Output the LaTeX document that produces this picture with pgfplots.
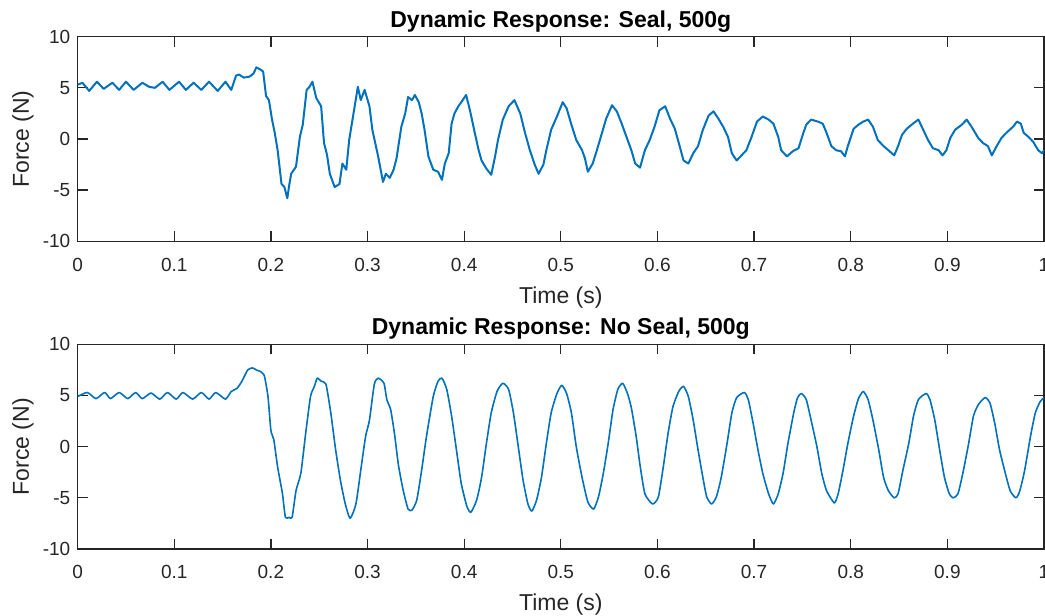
\documentclass[border=0pt]{standalone}
\usepackage{pgfplots}
\pgfplotsset{compat=1.18}
\usepackage{fontspec}
\setmainfont{Liberation Sans}
\definecolor{mblue}{RGB}{0,114,189}
\definecolor{axgray}{RGB}{38,38,38}

\pgfplotstableread{
x y
0.000 5.3
0.005 5.5
0.012 4.7
0.020 5.6
0.027 4.9
0.036 5.5
0.043 4.8
0.050 5.6
0.058 4.8
0.067 5.5
0.074 5.1
0.080 5.0
0.088 5.6
0.095 4.8
0.105 5.6
0.112 4.8
0.120 5.5
0.128 4.8
0.136 5.6
0.145 4.7
0.153 5.6
0.159 4.8
0.164 6.2
0.167 6.3
0.172 6.0
0.178 6.1
0.182 6.4
0.185 7.0
0.189 6.8
0.192 6.6
0.195 4.2
0.198 3.8
0.201 2.0
0.204 0.6
0.207 -1.1
0.211 -4.4
0.214 -4.7
0.217 -5.8
0.219 -4.5
0.221 -3.4
0.226 -2.7
0.230 0.2
0.233 1.4
0.237 4.8
0.240 5.1
0.243 5.6
0.247 4.0
0.252 3.2
0.255 -0.4
0.258 -1.5
0.261 -3.4
0.266 -4.7
0.271 -4.4
0.274 -2.4
0.278 -3.0
0.281 -0.1
0.285 2.2
0.290 5.1
0.293 3.8
0.297 4.8
0.302 3.2
0.305 0.9
0.311 -1.7
0.316 -4.2
0.319 -3.4
0.323 -3.8
0.327 -3.0
0.330 -1.9
0.335 1.2
0.339 2.5
0.342 4.1
0.346 3.8
0.349 4.3
0.353 3.6
0.356 2.5
0.359 0.9
0.363 -1.7
0.368 -3.0
0.373 -3.2
0.377 -4.0
0.380 -2.4
0.384 -1.4
0.387 1.5
0.390 2.5
0.394 3.2
0.397 3.6
0.402 4.3
0.406 2.8
0.411 0.6
0.415 -1.1
0.418 -2.1
0.423 -2.9
0.428 -3.5
0.432 -1.7
0.435 -0.1
0.440 1.9
0.446 3.2
0.452 3.8
0.458 2.5
0.463 0.6
0.468 -1.1
0.473 -2.5
0.477 -3.4
0.482 -2.5
0.485 -1.1
0.490 0.9
0.496 2.2
0.502 3.6
0.506 3.0
0.511 1.4
0.516 -0.1
0.522 -1.1
0.525 -1.9
0.528 -3.2
0.533 -2.4
0.537 -1.2
0.542 0.4
0.547 2.0
0.553 3.3
0.558 2.7
0.563 1.5
0.568 0.2
0.573 -1.1
0.577 -2.4
0.582 -2.8
0.587 -1.1
0.592 -0.1
0.597 1.2
0.602 2.8
0.608 3.2
0.613 2.0
0.618 1.0
0.623 -0.7
0.627 -2.1
0.632 -2.4
0.637 -1.4
0.642 -0.7
0.647 0.9
0.653 2.3
0.658 2.7
0.663 2.0
0.668 1.2
0.673 0.2
0.677 -1.4
0.682 -2.1
0.687 -1.6
0.692 -1.1
0.697 0.1
0.703 1.7
0.709 2.2
0.715 1.9
0.720 1.5
0.725 0.2
0.728 -1.1
0.734 -1.7
0.740 -1.2
0.746 -0.9
0.751 0.6
0.754 1.4
0.759 1.9
0.766 1.7
0.771 1.5
0.775 0.6
0.780 -0.7
0.785 -1.1
0.790 -1.2
0.794 -1.7
0.797 -0.7
0.803 1.0
0.808 1.4
0.813 1.7
0.818 1.9
0.823 1.2
0.828 -0.1
0.834 -0.7
0.839 -1.1
0.845 -1.6
0.849 -0.7
0.853 0.4
0.858 1.0
0.863 1.4
0.870 1.9
0.875 0.9
0.880 -0.1
0.885 -0.9
0.891 -1.1
0.895 -1.6
0.899 -1.1
0.903 0.1
0.908 0.9
0.915 1.4
0.920 1.9
0.925 1.2
0.932 0.1
0.937 -0.4
0.942 -0.7
0.946 -1.6
0.951 -0.7
0.956 0.1
0.961 0.6
0.968 1.2
0.972 1.7
0.976 1.5
0.979 0.6
0.984 0.2
0.989 -0.3
0.994 -1.1
0.998 -1.4
1.000 -1.1
}\sealdata

\pgfplotstableread{
x y
0.000 4.9
0.010 5.3
0.019 4.7
0.028 5.3
0.034 4.7
0.043 5.3
0.052 4.7
0.060 5.3
0.067 4.7
0.076 5.25
0.085 4.65
0.093 5.3
0.102 4.65
0.109 5.3
0.119 4.65
0.128 5.3
0.136 4.65
0.143 5.3
0.153 4.65
0.159 5.4
0.165 5.7
0.170 6.4
0.176 7.5
0.181 7.7
0.185 7.5
0.188 7.4
0.193 7.0
0.197 4.9
0.200 1.6
0.203 0.7
0.207 -2.0
0.212 -4.6
0.215 -6.9
0.219 -6.9
0.222 -6.9
0.226 -4.3
0.231 -2.6
0.236 1.3
0.241 4.9
0.245 5.9
0.248 6.7
0.252 6.4
0.257 6.1
0.262 3.3
0.267 -0.3
0.272 -3.3
0.277 -5.6
0.282 -7.0
0.288 -5.6
0.293 -2.3
0.298 1.0
0.302 2.6
0.307 6.1
0.311 6.7
0.317 6.2
0.320 4.6
0.324 3.6
0.328 1.2
0.332 -1.8
0.337 -4.3
0.342 -6.1
0.346 -6.2
0.351 -5.2
0.356 -2.3
0.361 1.0
0.368 4.9
0.373 6.4
0.377 6.7
0.382 5.6
0.387 3.0
0.392 -0.3
0.397 -3.6
0.403 -5.9
0.407 -6.4
0.413 -5.2
0.418 -3.0
0.423 0.3
0.428 3.3
0.434 5.4
0.440 6.2
0.446 5.6
0.451 3.3
0.456 0.0
0.461 -3.3
0.466 -5.6
0.470 -6.3
0.475 -5.2
0.480 -3.0
0.485 0.3
0.490 3.3
0.496 5.2
0.501 6.0
0.506 5.2
0.511 3.3
0.516 0.0
0.522 -3.0
0.528 -5.4
0.534 -6.1
0.539 -4.9
0.544 -2.6
0.549 0.3
0.554 3.6
0.559 5.6
0.564 6.2
0.569 5.2
0.573 3.8
0.578 1.0
0.582 -1.8
0.587 -4.6
0.595 -5.6
0.601 -4.9
0.606 -2.0
0.611 1.3
0.616 3.9
0.622 5.4
0.627 5.9
0.632 4.9
0.637 2.6
0.642 -0.3
0.647 -3.0
0.651 -4.9
0.656 -5.6
0.661 -4.9
0.666 -3.0
0.672 0.3
0.677 3.3
0.682 4.8
0.690 5.3
0.694 4.6
0.699 2.3
0.704 -0.3
0.709 -2.6
0.715 -4.6
0.720 -5.6
0.725 -4.6
0.730 -2.6
0.735 0.3
0.741 3.3
0.745 4.8
0.749 5.2
0.754 4.6
0.759 2.6
0.765 0.0
0.770 -2.6
0.775 -4.3
0.783 -5.5
0.787 -4.6
0.792 -2.3
0.797 0.3
0.803 3.0
0.808 4.7
0.813 5.4
0.818 4.6
0.823 2.6
0.829 -0.3
0.834 -3.0
0.839 -4.3
0.845 -5.0
0.849 -4.6
0.854 -2.3
0.860 0.3
0.865 3.0
0.870 4.6
0.878 5.2
0.882 4.6
0.887 2.6
0.892 -0.3
0.897 -3.0
0.902 -4.6
0.906 -5.0
0.911 -4.6
0.916 -2.6
0.922 0.3
0.927 3.0
0.932 4.1
0.939 4.8
0.944 4.3
0.949 2.3
0.954 -0.3
0.960 -2.6
0.965 -4.3
0.971 -5.0
0.975 -4.3
0.980 -2.3
0.986 1.0
0.991 3.3
0.996 4.4
1.000 4.8
}\nosealdata

\pgfplotsset{
  mystyle/.style={
    width=966.4pt, height=204.6pt, scale only axis,
    xmin=0, xmax=1, ymin=-10, ymax=10,
    xtick={0,0.1,0.2,0.3,0.4,0.5,0.6,0.7,0.8,0.9,1},
    xticklabels={0,0.1,0.2,0.3,0.4,0.5,0.6,0.7,0.8,0.9,1},
    ytick={-10,-5,0,5,10},
    yticklabels={-10,-5,0,5,10},
    xtick pos=both, ytick pos=both,
    tick align=inside, major tick length=10pt,
    axis line style={axgray, line width=1.3pt},
    major tick style={draw=axgray, line width=1.3pt},
    tick label style={font=\fontsize{19}{20}\selectfont, text=axgray},
    xticklabel style={anchor=base, yshift=-30pt},
    yticklabel style={anchor=east, xshift=-3.8pt},
    xlabel={Time (s)}, ylabel={Force (N)},
    xlabel style={at={(axis description cs:0.5,-0.303)}, anchor=base, font=\fontsize{23}{26}\selectfont, text=axgray},
    ylabel style={at={(axis description cs:-0.0503,0.5)}, anchor=base, font=\fontsize{23}{26}\selectfont, text=axgray},
    title style={at={(axis description cs:0.5,1.018)}, anchor=base, font=\fontsize{23}{26}\bfseries},
  }
}

\begin{document}
\begin{tikzpicture}
\begin{axis}[mystyle, at={(77.6pt,374.7pt)}, anchor=south west,
  title={Dynamic Response: Seal, 500g}]
\addplot[mblue, line width=2pt, line join=round] table[x=x,y=y] {\sealdata};
\end{axis}
\begin{axis}[mystyle, at={(77.6pt,67pt)}, anchor=south west,
  title={Dynamic Response: No Seal, 500g}]
\addplot[mblue, line width=1.6pt, line join=round, smooth, tension=0.35] table[x=x,y=y] {\nosealdata};
\end{axis}
\pgfresetboundingbox
\path (0pt,0pt) rectangle (1045pt,616pt);
\end{tikzpicture}
\end{document}
